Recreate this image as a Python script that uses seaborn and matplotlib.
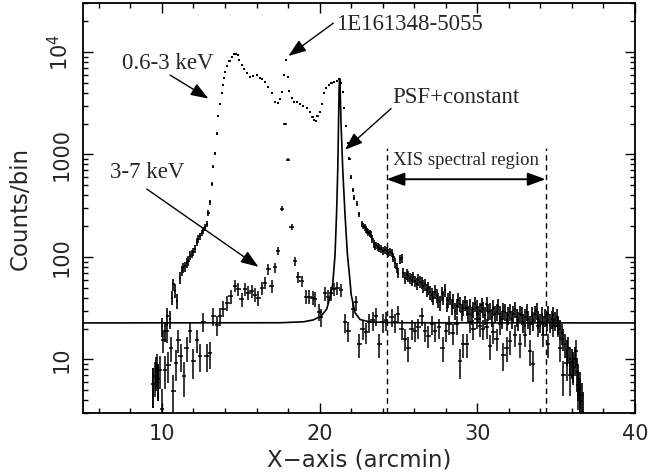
import numpy as np
import pandas as pd
import matplotlib
matplotlib.use("Agg")
import matplotlib.pyplot as plt
import matplotlib.ticker as mticker
import seaborn as sns

# --- data ---
soft_x = [9.46, 9.61, 9.77, 9.99, 10.20, 10.35, 10.52, 10.62, 10.73, 10.83, 10.94, 11.15, 11.25,
          11.36, 11.47, 11.57, 11.68, 11.78, 11.89, 11.99, 12.10, 12.21, 12.31, 12.42, 12.52, 12.63,
          12.74, 12.84, 12.95, 13.05, 13.16, 13.22, 13.37, 13.48, 13.58, 13.69, 13.79, 13.86, 13.94,
          14.02, 14.15, 14.28, 14.43, 14.58, 14.70, 14.80, 14.91, 15.06, 15.21, 15.38, 15.59, 15.80,
          16.01, 16.22, 16.33, 16.54, 16.75, 16.96, 17.17, 17.38, 17.49, 17.62, 17.75, 17.87, 17.98,
          18.08, 18.23, 18.40, 18.59, 18.76, 18.97, 19.18, 19.39, 19.55, 19.66, 19.76, 19.86, 20.03,
          20.16, 20.28, 20.41, 20.58, 20.75, 20.92, 21.09, 21.22, 21.34, 21.47, 21.57, 21.68, 21.79,
          21.89, 21.97, 22.10, 22.20, 22.36, 22.52, 22.67, 22.78, 22.88, 22.95, 23.03, 23.10, 23.17,
          23.24, 23.35, 23.45, 23.52, 23.60, 23.70, 23.79, 23.90, 24.04, 24.15, 24.25, 24.36, 24.47,
          24.57, 24.68, 24.78, 24.88, 24.99, 25.10, 25.20, 25.31, 25.42, 25.52, 25.63, 25.74, 25.84,
          25.95, 26.05, 26.16, 26.26, 26.37, 26.47, 26.58, 26.69, 26.80, 26.90, 27.00, 27.11, 27.21,
          27.32, 27.42, 27.53, 27.64, 27.74, 27.85, 27.95, 28.06, 28.16, 28.27, 28.38, 28.48, 28.59,
          28.69, 28.80, 28.90, 29.00, 29.11, 29.22, 29.32, 29.43, 29.54, 29.64, 29.75, 29.85, 29.96,
          30.06, 30.17, 30.27, 30.38, 30.48, 30.59, 30.70, 30.81, 30.91, 31.02, 31.12, 31.23, 31.33,
          31.44, 31.55, 31.65, 31.76, 31.86, 31.97, 32.08, 32.18, 32.29, 32.39, 32.50, 32.60, 32.71,
          32.81, 32.92, 33.03, 33.13, 33.24, 33.34, 33.45, 33.55, 33.66, 33.76, 33.87, 33.97, 34.08,
          34.19, 34.29, 34.40, 34.50, 34.61, 34.72, 34.82, 34.93, 35.03, 35.14, 35.25, 35.36, 35.46,
          35.57, 35.67, 35.78, 35.88, 35.99, 36.09, 36.20, 36.30, 36.40, 36.52, 36.63, 36.69]
soft_y = [5.8, 7.7, 6.5, 21, 19, 26.5, 25, 40, 54, 47, 37, 63, 73,
          79, 81, 88, 92, 103, 107, 112, 120, 140, 150, 160, 172, 182,
          195, 210, 270, 340, 515, 760, 1030, 1600, 2360, 3140, 3940, 4750, 5520,
          6410, 7300, 8220, 8990, 9560, 9600, 9340, 8350, 7460, 6770, 6180, 5730, 5820,
          5950, 5520, 5400, 5120, 4570, 3940, 3260, 3180, 3440, 4030, 5950, 8350, 5650,
          4180, 3520, 3260, 3260, 3140, 2960, 2850, 2600, 2300, 2150, 2120, 2360, 2600,
          3140, 3940, 4410, 4750, 4930, 5050, 5240, 5440, 4930, 4090, 2810, 1880, 1300,
          910, 600, 450, 380, 330, 260, 210, 200, 195, 185, 180, 175, 170,
          165, 150, 135, 128, 130, 125, 122, 120, 115, 118, 115, 110, 112,
          110, 100, 88, 78, 70, 95, 98, 70, 63, 68, 65, 62, 60,
          64, 58, 55, 60, 57, 56, 52, 54, 48, 50, 45, 43, 40,
          46, 42, 38, 36, 44, 40, 48, 35, 38, 40, 33, 37, 30,
          33, 38, 35, 29, 32, 36, 32, 28, 33, 27, 31, 35, 32,
          28, 30, 34, 31, 27, 35, 29, 30, 26, 32, 28, 29, 33,
          28, 25, 30, 29, 24, 27, 29, 25, 28, 31, 26, 24, 28,
          27, 23, 26, 29, 25, 22, 27, 24, 28, 30, 25, 23, 27,
          22, 26, 24, 28, 23, 25, 27, 24, 26, 22, 20, 18, 16,
          14, 12, 13, 10, 9.5, 8.9, 10, 7.5, 6.5, 5.2, 3.9, 3.1]

hard_x = [9.46, 9.57, 9.67, 9.77, 9.88, 9.99, 10.09, 10.20, 10.31, 10.41, 10.56, 10.73, 10.90,
          11.04, 11.19, 11.40, 11.57, 11.78, 11.99, 12.21, 12.42, 12.63, 12.84, 13.05, 13.26, 13.48,
          13.69, 13.90, 14.15, 14.36, 14.64, 14.85, 15.06, 15.27, 15.48, 15.69, 15.91, 16.12, 16.33,
          16.54, 16.75, 16.96, 17.17, 17.38, 17.60, 17.80, 18.00, 18.22, 18.44, 18.65, 18.86, 19.14,
          19.35, 19.56, 19.71, 19.99, 20.07, 20.35, 20.56, 20.73, 20.92, 21.13, 21.34, 21.61, 21.82,
          22.10, 22.31, 22.52, 22.73, 22.94, 23.15, 23.36, 23.58, 23.79, 24.00, 24.21, 24.57, 24.78,
          24.99, 25.20, 25.42, 25.63, 25.84, 26.05, 26.26, 26.47, 26.69, 26.90, 27.11, 27.32, 27.59,
          27.80, 28.02, 28.23, 28.44, 28.69, 28.90, 29.11, 29.32, 29.54, 29.75, 29.96, 30.17, 30.38,
          30.59, 30.81, 31.02, 31.23, 31.44, 31.65, 31.86, 32.08, 32.39, 32.71, 33.03, 33.34, 33.55,
          33.87, 34.19, 34.50, 34.82, 35.14, 35.25, 35.46, 35.67, 35.88, 36.09, 36.26, 36.40, 36.52]
hard_y = [5.8, 6.9, 8.3, 6.5, 7.9, 3.3, 15.6, 7.9, 18.8, 8.9, 13, 4.9, 9.2,
          15.6, 10.8, 6.9, 13, 18.8, 9.6, 15.6, 10.8, 23.4, 10.8, 11.5, 26.5, 21.7,
          26.5, 31.4, 35.5, 41.5, 52.4, 48.5, 38.5, 48.5, 44.9, 46.6, 43, 39.8, 50,
          56, 76, 52, 79, 114, 295, 2000, 890, 196, 91, 64, 58, 41,
          41, 40, 39, 29, 26, 44, 41, 44, 49, 50, 48, 23, 19,
          31, 36, 14, 20, 18.5, 23, 24, 26.5, 14, 23, 24, 26, 23,
          28, 20, 16, 13, 20, 19, 20.5, 26.5, 19, 17, 22, 19, 20.5,
          13, 19, 22, 18, 22, 9.6, 14, 14, 23, 20, 25, 21, 20,
          20.5, 13.5, 18.5, 16, 22, 11, 13, 15, 17.5, 14, 17.5, 12, 9,
          21, 17.5, 14, 21, 21, 13, 7, 9.2, 7, 8.5, 12, 5.6, 4.5]

# PSF + constant model curve
psf_x = [5.0, 17.5, 19.0, 19.6, 20.1, 20.45, 20.65, 20.83, 20.98, 21.08, 21.15, 21.20, 21.24,
         21.27, 21.30, 21.36, 21.47, 21.61, 21.76, 21.93, 22.0, 22.25, 22.57, 23.2, 25.0, 40.0]
psf_y = [22.7, 22.8, 23.3, 24.3, 26.5, 31, 40, 54, 105, 280, 700, 2000, 4500,
         5500, 4500, 2000, 700, 260, 107, 58, 43, 28.5, 24.5, 23.2, 22.8, 22.7]

xis_region = [24.25, 34.33]

x_ticks = [10, 20, 30, 40]
y_ticks = [10, 100, 1000, 10000]
y_ticklabels = ["10", "100", "1000", "$10^4$"]

SERIF = ["Liberation Serif", "DejaVu Serif"]


def poisson_err(y):
    y = np.asarray(y, dtype=float)
    e = np.sqrt(y)
    return np.vstack([np.minimum(e, 0.93 * y), e])


def main():
    sns.set_theme(style="ticks")
    plt.rcParams['font.family'] = ['DejaVu Sans']
    plt.rcParams['axes.unicode_minus'] = False

    fig = plt.figure(figsize=(6.49, 4.75), dpi=100)
    ax = fig.add_axes([0.128, 0.1305, 0.8504, 0.863])
    ax.set_yscale('log')

    soft = pd.DataFrame({'x': soft_x, 'y': soft_y})
    hard = pd.DataFrame({'x': hard_x, 'y': hard_y})
    psf = pd.DataFrame({'x': psf_x, 'y': psf_y})

    # error bars (bin width horizontally, Poisson vertically)
    ax.errorbar(soft['x'], soft['y'], xerr=0.07, yerr=poisson_err(soft['y']),
                fmt='none', ecolor='black', elinewidth=1.2, capsize=0)
    ax.errorbar(hard['x'], hard['y'], xerr=0.14, yerr=poisson_err(hard['y']),
                fmt='none', ecolor='black', elinewidth=1.1, capsize=0)
    sns.scatterplot(data=soft, x='x', y='y', ax=ax, color='black', s=4,
                    marker='s', linewidth=0, legend=False)

    sns.lineplot(data=psf, x='x', y='y', ax=ax, color='black', lw=1.2,
                 sort=False, estimator=None, legend=False)

    ax.vlines(xis_region, 3, 1150, colors='black', linestyles=(0, (4, 3)), lw=1.0)

    ax.set_xlim(5, 40)
    ax.set_ylim(3, 3e4)

    # ticks in the PGPLOT manner: inward, all four sides
    ax.xaxis.set_major_locator(mticker.FixedLocator(x_ticks))
    ax.xaxis.set_minor_locator(mticker.MultipleLocator(2))
    ax.yaxis.set_major_locator(mticker.FixedLocator(y_ticks))
    ax.yaxis.set_major_formatter(mticker.FixedFormatter(y_ticklabels))
    ax.yaxis.set_minor_locator(mticker.LogLocator(base=10, subs=np.arange(2, 10), numticks=20))
    ax.yaxis.set_minor_formatter(mticker.NullFormatter())
    ax.tick_params(which='both', direction='in', top=True, right=True, color='black', width=1.0)
    ax.tick_params(which='major', length=7, labelsize=15, pad=8)
    ax.tick_params(which='minor', length=3.5)
    for lab in ax.get_yticklabels():
        lab.set_rotation(90)
        lab.set_va('center')
    for s in ax.spines.values():
        s.set_linewidth(1.3)
        s.set_color('black')

    ax.set_xlabel("X\u2212axis (arcmin)", fontsize=16.5, labelpad=3)
    ax.set_ylabel("Counts/bin", fontsize=16.5, labelpad=11)

    arrow = dict(arrowstyle='-|>,head_length=0.6,head_width=0.22', color='black',
                 lw=1.0, shrinkA=0, shrinkB=0, mutation_scale=18)

    ax.text(10.39, 7800, "0.6-3 keV", family=SERIF, fontsize=16.5, ha='center', va='center')
    ax.annotate('', xy=(12.95, 3510), xytext=(10.52, 5950), arrowprops=arrow)

    ax.text(25.7, 18400, "1E161348-5055", family=SERIF, fontsize=16.5, ha='center', va='center')
    ax.annotate('', xy=(18.02, 9140), xytext=(20.87, 19100), arrowprops=arrow)

    ax.text(28.65, 3620, "PSF+constant", family=SERIF, fontsize=16.5, ha='center', va='center')
    ax.annotate('', xy=(21.61, 1110), xytext=(24.53, 2800), arrowprops=arrow)

    ax.text(9.06, 667, "3-7 keV", family=SERIF, fontsize=16.5, ha='center', va='center')
    ax.annotate('', xy=(16.12, 80), xytext=(9.04, 460), arrowprops=arrow)

    ax.text(sum(xis_region) / 2, 870, "XIS spectral region", family=SERIF, fontsize=13.5,
            ha='center', va='center')
    ax.annotate('', xy=(xis_region[0], 573), xytext=(xis_region[1], 573),
                arrowprops=dict(arrowstyle='<|-|>,head_length=0.6,head_width=0.22', color='black',
                                lw=1.4, shrinkA=0, shrinkB=0, mutation_scale=18))

    fig.savefig("out.png", dpi=100)
    plt.close(fig)


if __name__ == "__main__":
    main()
